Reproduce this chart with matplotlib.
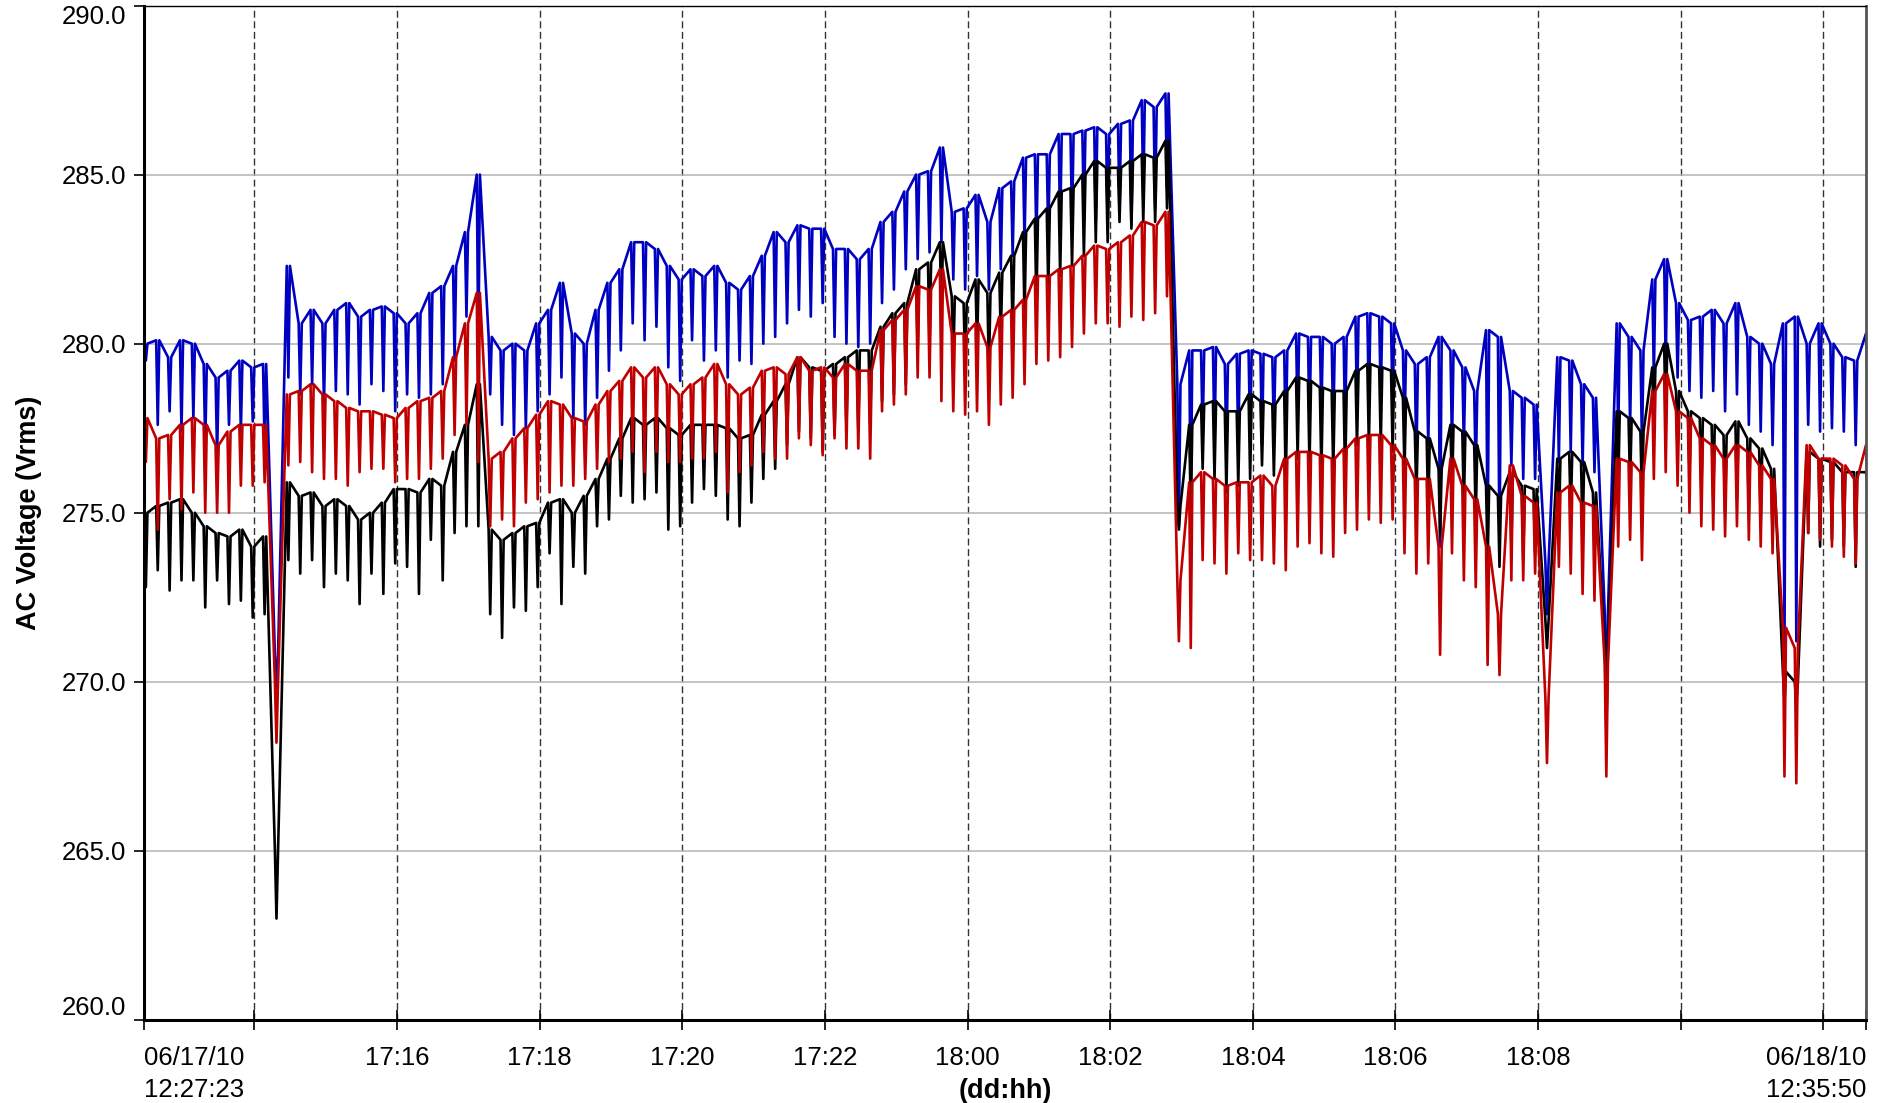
import numpy as np
import matplotlib
matplotlib.use("Agg")
import matplotlib.pyplot as plt
from datetime import datetime, timedelta

# logging window
start = datetime(2010, 6, 17, 12, 27, 23)
end = datetime(2010, 6, 18, 12, 35, 50)

# one value pair per ~10 min record: normal level and the short dip in that record
blue_lvl = [280.0, 280.1, 279.6, 280.1, 280.0, 279.4, 279.0, 279.2, 279.5, 279.3,
            279.4, 270.8, 282.3, 280.6, 281.0, 280.6, 281.0, 281.2, 280.8, 281.0,
            281.1, 280.9, 280.6, 280.9, 281.5, 281.7, 282.3, 283.3, 285.0, 280.2,
            279.8, 280.0, 279.8, 280.6, 281.0, 281.8, 280.3, 280.0, 281.0, 281.8,
            282.2, 283.0, 283.0, 282.8, 282.3, 281.9, 282.2, 282.0, 282.3, 281.8,
            281.6, 282.0, 282.6, 283.3, 283.0, 283.5, 283.4, 283.4, 282.8, 282.8,
            282.5, 282.8, 283.6, 283.9, 284.5, 285.0, 285.1, 285.8, 283.9, 284.0,
            284.4, 283.6, 284.6, 284.8, 285.5, 285.6, 285.6, 286.2, 286.2, 286.3,
            286.4, 286.2, 286.5, 286.6, 287.2, 287.0, 287.4, 278.8, 279.8, 279.8,
            279.9, 279.4, 279.7, 279.8, 279.7, 279.6, 279.8, 280.3, 280.2, 280.2,
            280.0, 280.2, 280.8, 280.9, 280.8, 280.6, 279.8, 279.4, 279.6, 280.2,
            279.8, 279.3, 278.6, 280.4, 280.2, 278.6, 278.4, 278.2, 273.5, 279.6,
            279.5, 278.8, 278.4, 272.0, 280.6, 280.2, 279.8, 281.9, 282.5, 281.2,
            280.7, 280.8, 281.0, 280.6, 281.2, 280.2, 280.0, 279.4, 280.6, 280.8,
            280.0, 280.6, 280.0, 279.6, 279.5, 280.3]
blue_dip = [279.5, 277.6, 278.0, 277.4, 277.8, 277.0, 276.7, 277.6, 277.4, 277.7,
            277.0, 269.8, 279.0, 278.5, 278.8, 278.2, 278.6, 278.5, 278.2, 278.8,
            278.6, 278.0, 278.5, 278.4, 278.5, 278.8, 279.5, 280.8, 279.6, 278.5,
            277.6, 277.3, 277.5, 278.0, 278.5, 279.0, 277.8, 277.6, 278.4, 279.2,
            279.8, 280.6, 280.1, 280.5, 279.3, 278.9, 280.1, 279.5, 279.8, 279.0,
            279.5, 279.4, 280.0, 280.2, 280.6, 281.0, 280.8, 281.2, 280.2, 280.0,
            279.9, 280.0, 281.2, 281.6, 282.2, 282.5, 282.7, 283.0, 281.9, 281.6,
            282.0, 281.6, 282.2, 282.6, 283.0, 283.0, 283.2, 283.4, 283.6, 283.8,
            283.6, 283.5, 284.0, 283.5, 284.4, 284.0, 284.6, 274.6, 275.0, 277.3,
            277.0, 276.8, 277.0, 277.2, 277.0, 277.4, 277.0, 277.7, 277.6, 278.0,
            277.5, 277.6, 278.0, 278.2, 278.4, 278.0, 277.3, 276.5, 277.0, 274.0,
            277.0, 277.0, 276.2, 274.0, 273.8, 276.4, 276.0, 276.0, 272.0, 276.5,
            276.8, 276.4, 276.2, 268.9, 277.2, 277.6, 277.0, 279.0, 279.4, 279.0,
            278.6, 278.4, 278.6, 278.0, 278.5, 277.6, 277.4, 277.0, 271.0, 271.2,
            277.6, 277.4, 277.5, 277.4, 277.0, 279.0]

red_lvl = [277.8, 277.2, 277.3, 277.6, 277.8, 277.6, 277.0, 277.4, 277.6, 277.6,
           277.6, 270.0, 278.5, 278.6, 278.8, 278.5, 278.3, 278.1, 278.0, 278.0,
           277.9, 277.8, 278.1, 278.3, 278.4, 278.6, 279.6, 280.6, 281.5, 276.6,
           276.8, 277.2, 277.5, 277.9, 278.3, 278.2, 277.8, 277.7, 278.2, 278.6,
           278.9, 279.3, 279.0, 279.3, 278.8, 278.5, 278.8, 279.0, 279.4, 278.8,
           278.5, 278.7, 279.2, 279.3, 279.1, 279.6, 279.2, 279.3, 279.0, 279.4,
           279.2, 279.2, 280.4, 280.7, 281.0, 281.7, 281.6, 282.2, 280.3, 280.3,
           280.6, 279.9, 280.8, 281.0, 281.3, 282.0, 282.0, 282.2, 282.3, 282.6,
           282.9, 282.8, 283.0, 283.2, 283.6, 283.5, 283.9, 273.0, 275.9, 276.2,
           276.0, 275.8, 275.9, 275.9, 276.1, 275.8, 276.6, 276.8, 276.8, 276.7,
           276.6, 276.9, 277.2, 277.3, 277.3, 277.0, 276.6, 276.0, 276.0, 274.0,
           276.6, 275.8, 275.4, 274.0, 272.0, 276.4, 275.5, 275.3, 269.5, 275.6,
           275.8, 275.3, 275.2, 270.5, 276.6, 276.5, 276.2, 278.6, 279.1, 278.0,
           277.8, 277.2, 277.0, 276.6, 277.0, 276.8, 276.4, 276.0, 271.6, 271.0,
           277.0, 276.6, 276.6, 276.4, 276.0, 277.0]
red_dip = [276.5, 274.5, 275.4, 275.1, 275.6, 275.0, 275.0, 275.0, 275.8, 275.8,
           275.9, 268.2, 276.4, 276.5, 276.2, 276.0, 276.0, 275.8, 276.2, 276.3,
           276.3, 275.9, 276.0, 276.0, 276.3, 276.6, 277.3, 277.6, 276.5, 274.6,
           274.8, 274.6, 275.3, 275.4, 275.6, 275.8, 275.8, 276.0, 276.3, 276.5,
           276.6, 276.8, 276.2, 276.8, 276.5, 276.5, 276.6, 276.6, 276.8, 275.6,
           276.2, 276.4, 276.8, 276.6, 276.6, 277.2, 277.0, 276.7, 277.2, 276.9,
           276.9, 276.6, 278.0, 278.2, 278.5, 279.0, 279.0, 278.3, 278.0, 277.9,
           278.0, 277.6, 278.2, 278.4, 278.8, 279.4, 279.5, 279.6, 279.9, 280.3,
           280.6, 280.6, 280.5, 280.8, 280.7, 280.9, 281.4, 271.2, 271.0, 273.6,
           273.5, 273.2, 273.8, 273.6, 273.6, 273.5, 273.3, 274.0, 274.1, 273.8,
           273.7, 274.4, 274.5, 274.8, 274.7, 274.8, 273.8, 273.2, 273.5, 270.8,
           273.8, 273.0, 272.8, 270.5, 270.2, 273.0, 273.0, 273.2, 267.6, 273.4,
           273.2, 272.6, 272.4, 267.2, 274.0, 274.2, 273.6, 276.0, 276.2, 275.8,
           275.0, 274.6, 274.5, 274.3, 274.6, 274.2, 274.0, 273.8, 267.2, 267.0,
           274.4, 274.2, 274.0, 273.7, 273.5, 276.0]

black_lvl = [275.0, 275.2, 275.3, 275.4, 275.0, 274.6, 274.4, 274.3, 274.5, 274.0,
             274.3, 265.0, 275.9, 275.5, 275.6, 275.2, 275.4, 275.2, 274.8, 275.0,
             275.3, 275.7, 275.7, 275.6, 276.0, 275.8, 276.8, 277.6, 278.8, 274.5,
             274.2, 274.4, 274.6, 274.7, 275.3, 275.4, 275.0, 275.5, 276.0, 276.6,
             277.2, 277.8, 277.6, 277.8, 277.5, 277.3, 277.6, 277.6, 277.6, 277.5,
             277.2, 277.3, 277.9, 278.3, 278.8, 279.6, 279.3, 279.2, 279.4, 279.6,
             279.8, 279.8, 280.5, 280.9, 281.2, 282.2, 282.4, 283.0, 281.4, 281.2,
             281.9, 281.5, 282.1, 282.6, 283.3, 283.7, 284.0, 284.5, 284.6, 285.0,
             285.4, 285.2, 285.2, 285.4, 285.6, 285.5, 286.0, 275.2, 277.6, 278.2,
             278.3, 278.0, 278.0, 278.5, 278.3, 278.2, 278.6, 279.0, 278.9, 278.7,
             278.6, 278.6, 279.2, 279.4, 279.3, 279.2, 278.4, 277.4, 277.2, 276.3,
             277.6, 277.4, 277.0, 275.8, 275.5, 276.2, 275.8, 275.7, 271.8, 276.6,
             276.8, 276.5, 275.6, 271.0, 278.0, 277.8, 277.4, 279.3, 280.0, 278.6,
             278.0, 277.8, 277.6, 277.3, 277.7, 277.2, 276.9, 276.3, 270.3, 270.0,
             276.8, 276.6, 276.5, 276.2, 276.2, 276.2]
black_dip = [272.8, 273.3, 272.7, 273.0, 273.0, 272.2, 273.0, 272.3, 272.4, 271.9,
             272.0, 263.0, 273.6, 273.2, 273.6, 272.8, 273.2, 273.0, 272.3, 273.2,
             272.6, 273.5, 273.4, 272.6, 274.2, 273.0, 274.4, 274.6, 274.6, 272.0,
             271.3, 272.2, 272.1, 272.8, 273.8, 272.3, 273.4, 273.2, 274.6, 274.8,
             275.5, 275.3, 275.4, 275.6, 274.5, 274.6, 275.3, 275.7, 275.5, 274.8,
             274.6, 275.3, 276.0, 276.3, 277.0, 277.4, 277.2, 276.8, 277.3, 277.5,
             277.5, 277.6, 278.3, 278.5, 278.8, 279.8, 280.0, 281.0, 279.5, 279.3,
             279.9, 279.2, 280.2, 280.3, 280.8, 281.2, 281.6, 282.0, 282.3, 282.6,
             283.0, 283.0, 283.6, 283.4, 283.6, 283.6, 284.0, 274.5, 275.0, 276.3,
             276.0, 275.6, 275.8, 276.0, 276.4, 276.1, 275.8, 276.6, 276.4, 276.2,
             276.2, 276.0, 277.0, 277.0, 277.0, 276.8, 276.2, 275.5, 275.0, 274.3,
             275.6, 275.2, 274.8, 273.5, 273.4, 274.0, 273.6, 273.8, 271.0, 274.5,
             275.0, 274.3, 273.9, 268.5, 275.8, 275.8, 275.4, 277.4, 277.6, 276.8,
             276.2, 275.6, 275.4, 275.0, 275.4, 275.0, 274.8, 274.3, 269.4, 269.3,
             274.4, 274.0, 274.2, 274.0, 273.4, 275.8]

y_ticks = [260, 265, 270, 275, 280, 285, 290]
x_labels = ['06/17/10\n12:27:23', '', '17:16', '17:18', '17:20', '17:22', '18:00',
            '18:02', '18:04', '18:06', '18:08', '', '', '06/18/10\n12:35:50']

total_h = (end - start).total_seconds() / 3600
step = total_h / (len(blue_lvl) - 1)
t = np.arange(len(blue_lvl)) * step


def spikes(lvl, dip, d=0.022):
    # level -> short dip -> level, for every record
    lvl = np.array(lvl)
    dip = np.array(dip)
    x = np.column_stack([t, t + d, t + 2 * d]).ravel()
    y = np.column_stack([lvl, dip, lvl]).ravel()
    return x, y


arial = 'Liberation Sans'

fig = plt.figure(figsize=(18.85, 11.03), dpi=100)
ax = fig.add_axes([144.3 / 1885, 1 - 1020 / 1103, (1866 - 144.3) / 1885, (1020 - 5.5) / 1103])

# hour ticks every 2 h, plus the start and end stamps
first = datetime(2010, 6, 17, 14, 0, 0)
inner = [(first + timedelta(hours=2 * k) - start).total_seconds() / 3600 for k in range(12)]
xt = [0] + inner + [total_h]

ax.grid(axis='y', color='#b4b4b4', linewidth=1.1, zorder=0)
for h in inner:
    ax.axvline(h, color='#333333', linewidth=1.0, dashes=(5, 2.6), zorder=0.5)

for lvl, dip, col in [(blue_lvl, blue_dip, '#0000c0'),
                      (black_lvl, black_dip, '#000000'),
                      (red_lvl, red_dip, '#c00000')]:
    x, y = spikes(lvl, dip)
    ax.plot(x, y, color=col, linewidth=1.9, zorder=2)

ax.set_xlim(0, total_h)
ax.set_ylim(260, 290)

ax.set_yticks(y_ticks)
ax.set_yticklabels(['%.1f' % v for v in y_ticks], fontfamily=arial, fontsize=18.5)
ax.set_xticks(xt)
ax.set_xticklabels(x_labels, fontfamily=arial, fontsize=18.5, linespacing=1.4)
ax.tick_params(axis='y', direction='out', length=7, width=1.2, pad=6)
ax.tick_params(axis='x', direction='inout', length=14, width=1.2, pad=12)

xtl = ax.get_xticklabels()
xtl[0].set_horizontalalignment('left')
xtl[-1].set_horizontalalignment('right')
ytl = ax.yaxis.get_major_ticks()
ytl[0].label1.set_verticalalignment('bottom')
ytl[-1].label1.set_verticalalignment('top')

ax.spines['left'].set_linewidth(2.2)
ax.spines['bottom'].set_linewidth(2.2)
ax.spines['top'].set_linewidth(1.0)
ax.spines['right'].set_linewidth(2.0)
ax.spines['right'].set_color('#555555')

ax.text(-0.067, 0.5, 'AC Voltage (Vrms)', transform=ax.transAxes, rotation=90,
        ha='center', va='center', fontsize=19.5, fontweight='bold', family=arial)
ax.text(0.5, -0.07, '(dd:hh)', transform=ax.transAxes, ha='center', va='center',
        fontsize=19.5, fontweight='bold', family=arial)

fig.savefig('out.png', dpi=100)
